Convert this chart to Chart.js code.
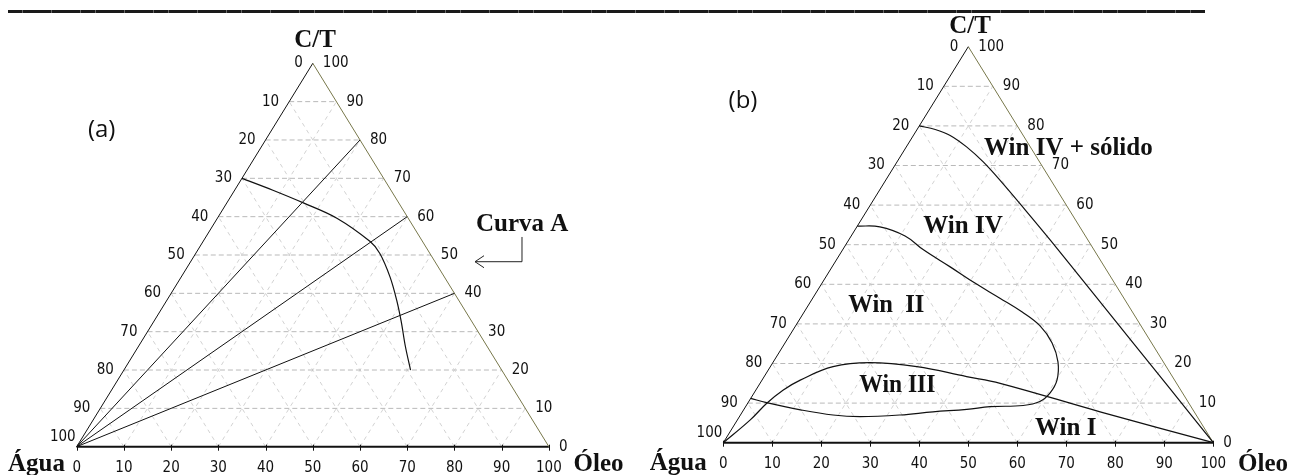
<!DOCTYPE html>
<html>
<head>
<meta charset="utf-8">
<script src="https://cdn.jsdelivr.net/npm/chart.js@4.4.1/dist/chart.umd.min.js"></script>
<style>
  body { margin: 0; background: #fff; }
  #wrap { position: relative; width: 1290px; height: 475px; overflow: hidden; }
  #wrap canvas { position: absolute; left: 0; top: 0; }
  #rule { position: absolute; left: 8px; top: 10px; width: 1197px; height: 3px;
          background: repeating-linear-gradient(90deg, #1a1a1a 0 14px, #666 14px 14.6px); }
</style>
</head>
<body>
<div id="wrap">
  <div id="rule"></div>
  <canvas id="chartA" width="1290" height="475"></canvas>
  <canvas id="chartB" width="1290" height="475"></canvas>
</div>
<script>
// axis ticks (percent) shared by both diagrams
const tickValues = [0, 10, 20, 30, 40, 50, 60, 70, 80, 90, 100];
const gridSteps = [10, 20, 30, 40, 50, 60, 70, 80, 90];

// (a) lines from the water corner to the C/T-oil side, at these C/T values
const tieLineCT = [80, 60, 40];
// (a) Curva A, as oil % and C/T %
const curvaAOil = [0, 8.1, 16.2, 25.3, 35.4, 39.0, 44.2, 48.6, 52.3, 56.5, 60.7];
const curvaACT  = [70, 66.9, 63.6, 59.6, 53.5, 50.4, 44.3, 38.3, 32.8, 26.2, 20.0];

// (b) Win IV / Win IV + solido boundary
const solidoOil = [0, 3.7, 7.5, 12.3, 17.6, 23.3, 32.2, 41.1, 55.5, 70.0, 84.4, 100];
const solidoCT  = [80, 79.1, 77.6, 74.7, 70.9, 66.3, 58.8, 51.2, 38.7, 26.1, 13.6, 0];
// (b) Win II loop
const win2Oil = [0, 4.7, 11.0, 16.5, 24.1, 31.2, 38.2, 44.5, 49.9, 54.5, 58.1, 60.2, 60.4, 59.4, 56.5, 49.9, 45.5, 38.9, 32.6, 24.6, 18.9, 11.6, 3.8, 0];
const win2CT  = [54.7, 54.5, 52.2, 48.7, 44.4, 40.3, 36.5, 33.0, 29.5, 25.2, 20.4, 15.8, 12.6, 10.4, 9.4, 9.1, 8.4, 7.8, 7.0, 6.6, 7.0, 8.3, 10.1, 11.2];
// (b) Win III / Win I boundary, water corner to oil corner
const win3Oil = [0, 2.6, 3.9, 5.6, 7.8, 12.8, 19.8, 29.9, 41.3, 49.0, 73.0, 100];
const win3CT  = [0, 5.7, 9.95, 13.3, 15.8, 19.2, 20.2, 19.2, 16.7, 15.0, 7.8, 0];

const regionLabels = ['Win IV + sólido', 'Win IV', 'Win  II', 'Win III', 'Win I'];

const W = 1290, H = 475;
const SERIF = "bold 25px 'Liberation Serif', 'Times New Roman', serif";
const NUM = "15px 'Liberation Sans Narrow', 'DejaVu Sans Condensed', sans-serif";
const PAREN = "24px 'Open Sans', 'Noto Sans', sans-serif";

function toXY(oil, ct) { return { x: (oil + ct / 2) / 100, y: ct / 100 }; }
function seriesXY(oils, cts) { return oils.map((o, i) => toXY(o, cts[i])); }

function lineDS(data, color, width, dash, tension) {
  return {
    data, showLine: true, borderColor: color, borderWidth: width,
    borderDash: dash || [], tension: tension || 0, pointRadius: 0,
    fill: false, clip: false
  };
}

function frameDatasets() {
  const ds = [
    lineDS([toXY(0, 0), toXY(0, 100)], '#111', 1),
    lineDS([toXY(100, 0), toXY(0, 100)], '#77774a', 1),
    lineDS([toXY(0, 0), toXY(100, 0)], '#111', 2)
  ];
  gridSteps.forEach(k => {
    ds.push(lineDS([toXY(0, k), toXY(100 - k, k)], '#b9b9b9', 1, [5, 3]));
    ds.push(lineDS([toXY(k, 0), toXY(k, 100 - k)], '#d2d2d2', 1, [4, 4]));
    ds.push(lineDS([toXY(100 - k, 0), toXY(0, 100 - k)], '#d2d2d2', 1, [4, 4]));
  });
  return ds;
}

// text, ticks and the arrow, placed through the chart scales
const ternaryText = {
  id: 'ternaryText',
  afterDatasetsDraw(chart, args, opts) {
    const { ctx } = chart;
    const sx = chart.scales.x, sy = chart.scales.y;
    const P = (X, Y) => [sx.getPixelForValue(X), sy.getPixelForValue(Y)];
    ctx.save();
    // bottom ticks
    ctx.strokeStyle = '#111';
    ctx.lineWidth = 1;
    tickValues.forEach(t => {
      const [px, py] = P(t / 100, 0);
      ctx.beginPath();
      ctx.moveTo(Math.round(px) + 0.5, py - 2);
      ctx.lineTo(Math.round(px) + 0.5, py + 4);
      ctx.stroke();
    });
    ctx.fillStyle = '#111';
    ctx.font = NUM;
    ctx.textBaseline = 'middle';
    tickValues.forEach(t => {
      // bottom: oil
      let [px, py] = P(t / 100, 0);
      ctx.textAlign = 'center';
      ctx.fillText(String(t), px, py + 21);
      // left: water
      const ctL = 100 - t;
      [px, py] = P(ctL / 200, ctL / 100);
      ctx.textAlign = 'right';
      if (t === 100) ctx.fillText(String(t), px - 1, py - 10);
      else ctx.fillText(String(t), px - 10, py);
      // right: C/T
      [px, py] = P(1 - t / 200, t / 100);
      ctx.textAlign = 'left';
      ctx.fillText(String(t), px + 10, py);
    });
    // titles and region names
    (opts.texts || []).forEach(o => {
      const [px, py] = P(o.X, o.Y);
      ctx.font = o.font;
      ctx.textAlign = o.align || 'left';
      ctx.textBaseline = o.baseline || 'alphabetic';
      if (o.maxWidth) ctx.fillText(o.t, px, py, o.maxWidth);
      else ctx.fillText(o.t, px, py);
    });
    // arrow
    if (opts.arrow) {
      const pts = opts.arrow.map(p => P(p[0], p[1]));
      ctx.strokeStyle = '#222';
      ctx.lineWidth = 1;
      ctx.beginPath();
      pts.forEach((p, i) => i ? ctx.lineTo(p[0], p[1]) : ctx.moveTo(p[0], p[1]));
      const tip = pts[pts.length - 1];
      ctx.moveTo(tip[0] + 9, tip[1] - 6);
      ctx.lineTo(tip[0], tip[1]);
      ctx.lineTo(tip[0] + 9, tip[1] + 6);
      ctx.stroke();
    }
    ctx.restore();
  }
};
Chart.register(ternaryText);

function makeChart(canvasId, geo, curves, textOpts) {
  return new Chart(document.getElementById(canvasId), {
    type: 'scatter',
    data: { datasets: curves.concat(frameDatasets()) },
    options: {
      responsive: false,
      animation: false,
      devicePixelRatio: 1,
      events: [],
      layout: { padding: 0 },
      plugins: { legend: { display: false }, tooltip: { enabled: false }, ternaryText: textOpts },
      scales: {
        x: { type: 'linear', display: false, min: -geo.ox / geo.w, max: (W - geo.ox) / geo.w },
        y: { type: 'linear', display: false, min: geo.oy / geo.h - H / geo.h, max: geo.oy / geo.h }
      }
    }
  });
}

// (a)
makeChart('chartA', { ox: 76.7, oy: 446.7, w: 472.2, h: 383.4 },
  [lineDS(seriesXY(curvaAOil, curvaACT), '#111', 1.2, [], 0.35)]
    .concat(tieLineCT.map(c => lineDS([toXY(0, 0), toXY(100 - c, c)], '#111', 1))),
  {
    texts: [
      { t: '(a)', X: 0.0529, Y: 0.8253, font: PAREN, align: 'center', baseline: 'middle' },
      { t: 'C/T', X: 0.5047, Y: 1.0433, font: SERIF, align: 'center' },
      { t: 'Água', X: -0.0248, Y: -0.0634, font: SERIF, align: 'right' },
      { t: 'Óleo', X: 1.0523, Y: -0.0634, font: SERIF, align: 'left' },
      { t: 'Curva A', X: 0.8456, Y: 0.5626, font: SERIF, align: 'left' }
    ],
    arrow: [[0.943, 0.547], [0.943, 0.4825], [0.8435, 0.4825]]
  });

// (b)
makeChart('chartB', { ox: 723.3, oy: 442.7, w: 490, h: 396 },
  [
    lineDS(seriesXY(solidoOil, solidoCT), '#111', 1.2, [], 0.35),
    lineDS(seriesXY(win2Oil, win2CT), '#111', 1.2, [], 0.4),
    lineDS(seriesXY(win3Oil, win3CT), '#111', 1.2, [], 0.4)
  ],
  {
    texts: [
      { t: '(b)', X: 0.0402, Y: 0.8636, font: PAREN, align: 'center', baseline: 'middle' },
      { t: 'C/T', X: 0.5035, Y: 1.0338, font: SERIF, align: 'center' },
      { t: 'Água', X: -0.0339, Y: -0.0694, font: SERIF, align: 'right' },
      { t: 'Óleo', X: 1.0504, Y: -0.0715, font: SERIF, align: 'left' },
      { t: regionLabels[0], X: 0.532, Y: 0.7265, font: SERIF, maxWidth: 170 },
      { t: regionLabels[1], X: 0.4082, Y: 0.5303, font: SERIF },
      { t: regionLabels[2], X: 0.2551, Y: 0.3293, font: SERIF, maxWidth: 76 },
      { t: regionLabels[3], X: 0.2776, Y: 0.1288, font: SERIF, maxWidth: 76 },
      { t: regionLabels[4], X: 0.6361, Y: 0.0194, font: SERIF }
    ]
  });
</script>
</body>
</html>
